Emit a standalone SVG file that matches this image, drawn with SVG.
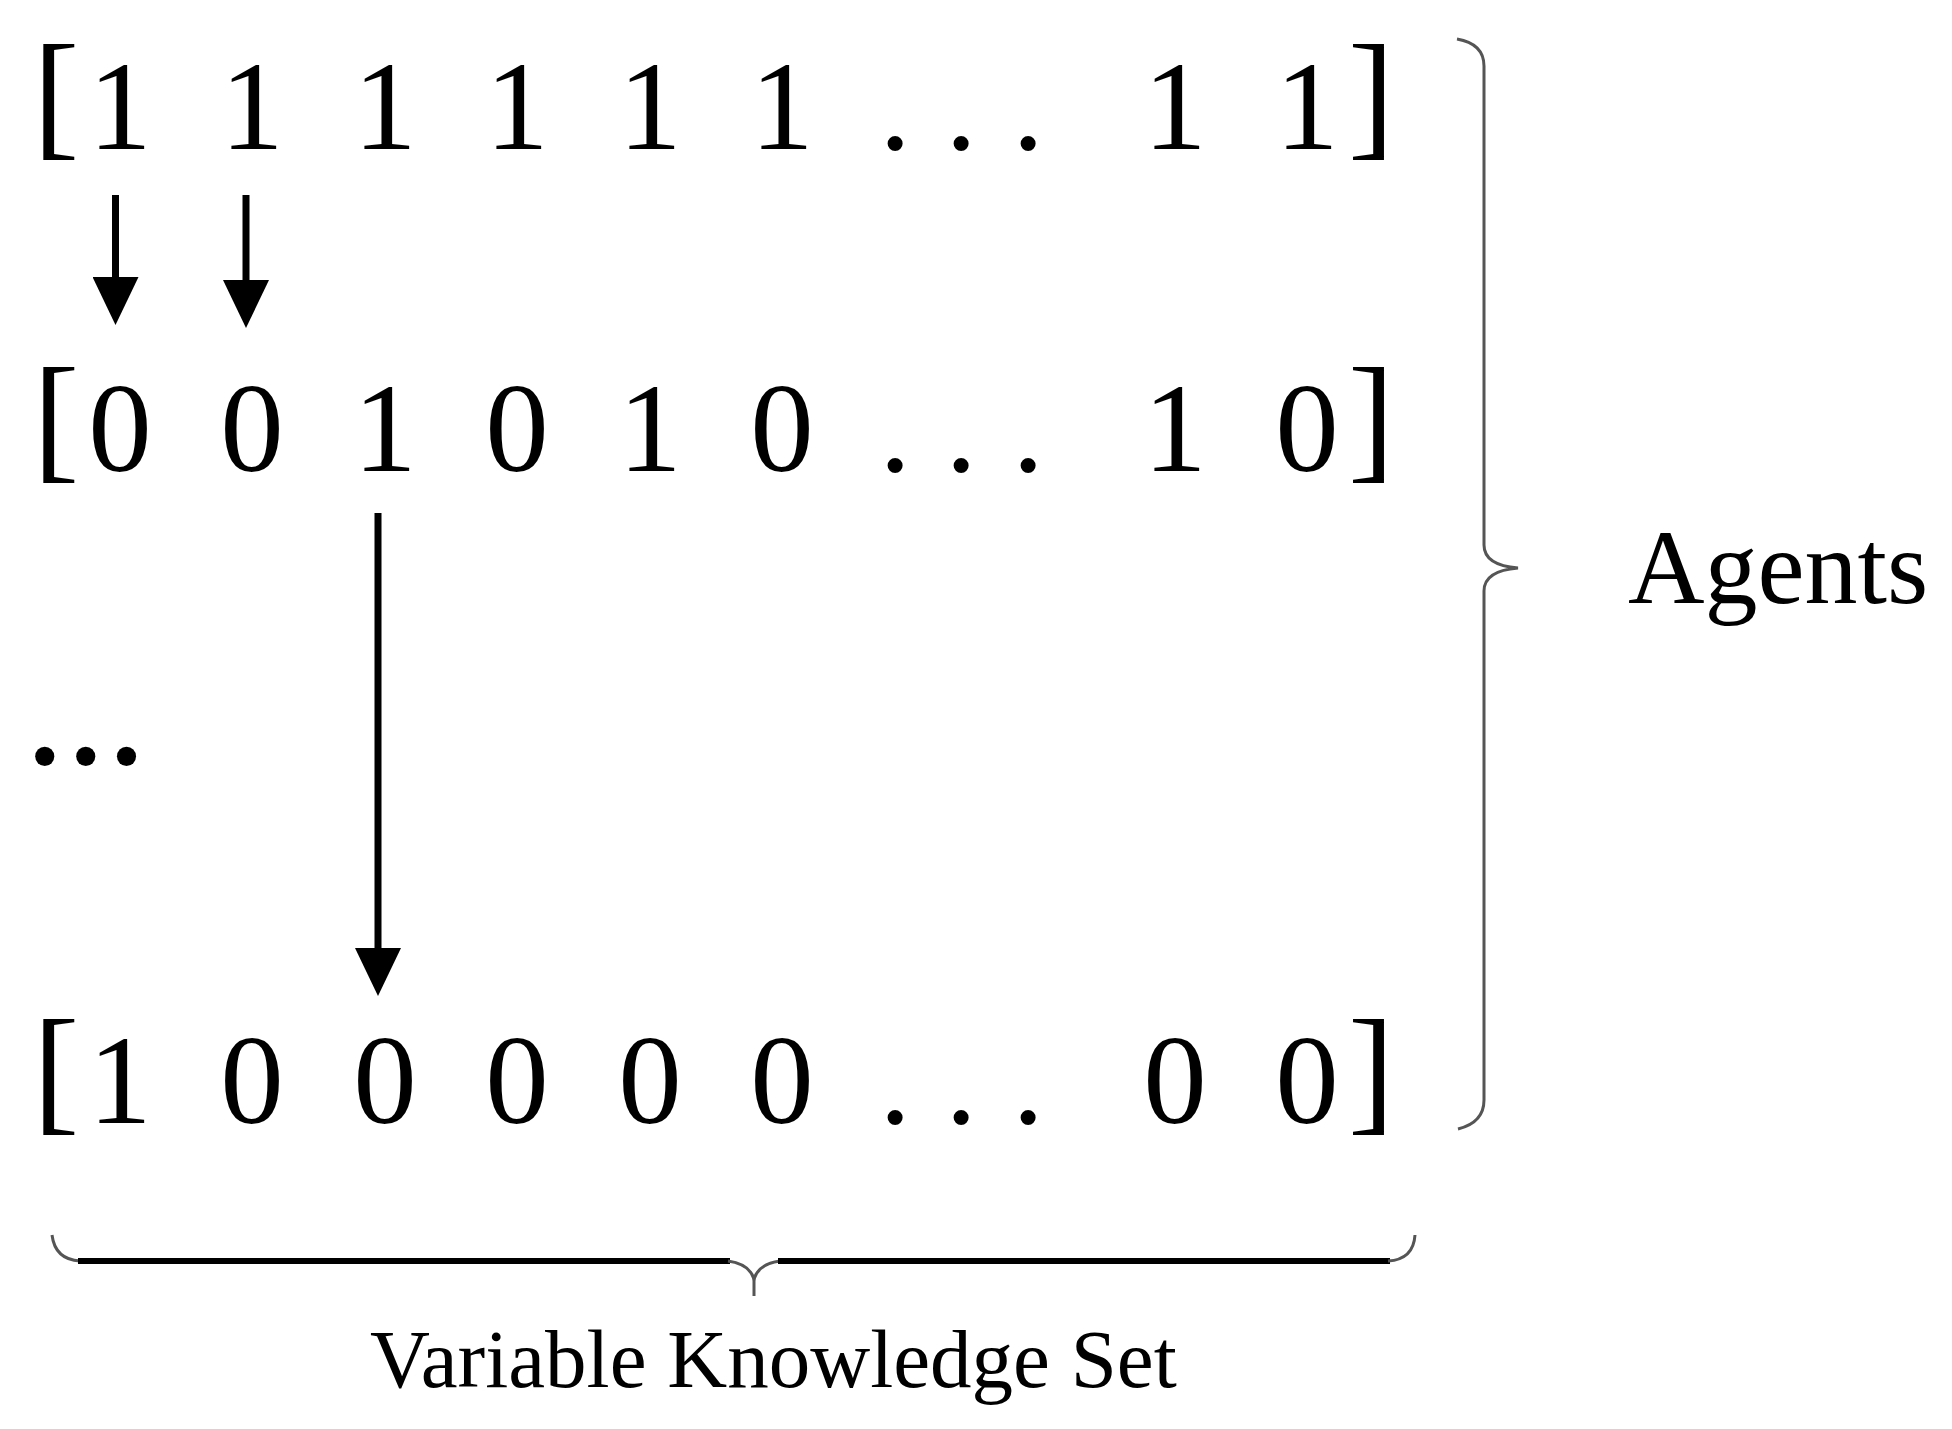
<svg xmlns="http://www.w3.org/2000/svg" width="1952" height="1429" viewBox="0 0 1952 1429">
<style>
.d{font-family:"Liberation Serif","Times New Roman",serif;font-size:127px;fill:#000;text-anchor:middle}
.b{font-family:"Liberation Serif","Times New Roman",serif;font-size:139px;fill:#000}
.lbl{font-family:"Liberation Serif","Times New Roman",serif;fill:#000}
.shaft{stroke:#000;stroke-width:7;fill:none}
.curve{stroke:#555;stroke-width:3;fill:none}
.thick{stroke:#000;stroke-width:6;fill:none}
</style>
<defs>
<marker id="ah" markerUnits="userSpaceOnUse" viewBox="0 0 48 46" markerWidth="48" markerHeight="46" refX="2" refY="23" orient="auto">
<path d="M0,0 L48,23 L0,46 Z" fill="#000"/>
</marker>
</defs>
<rect width="1952" height="1429" fill="#fff"/>
<g id="row1">
<text class="b" x="33" y="141">[</text>
<text class="d" x="120 252 385 517 650 782 895 961 1028 1175 1307" y="149">111111...11</text>
<text class="b" x="1348" y="141">]</text>
</g>
<g id="row2">
<text class="b" x="33" y="464">[</text>
<text class="d" x="120 252 385 517 650 782 895 961 1028 1175 1307" y="471">001010...10</text>
<text class="b" x="1348" y="464">]</text>
</g>
<g id="vdots">
<text class="lbl" x="30" y="764" font-size="118" font-weight="bold" letter-spacing="11.4">...</text>
</g>
<g id="row3">
<text class="b" x="33" y="1116">[</text>
<text class="d" x="120 252 385 517 650 782 895 961 1028 1175 1307" y="1123">100000...00</text>
<text class="b" x="1348" y="1116">]</text>
</g>
<g id="connectors">
<line class="shaft" x1="115.5" y1="195" x2="115.5" y2="279" marker-end="url(#ah)"/>
<line class="shaft" x1="246" y1="195" x2="246" y2="282" marker-end="url(#ah)"/>
<line class="shaft" x1="378" y1="513" x2="378" y2="950" marker-end="url(#ah)"/>
</g>
<g id="agents-brace">
<path class="curve" d="M1457,39 C1474,42 1484,50 1484,66 L1484,545 C1484,558 1494,566 1518,568 C1494,570 1484,578 1484,591 L1484,1100 C1484,1116 1474,1125 1458,1129"/>
</g>
<g id="agents-label">
<text class="lbl" x="1628" y="603" font-size="106">Agents</text>
</g>
<g id="knowledge-brace">
<path class="curve" d="M52,1235 C54,1251 63,1260 80,1261"/>
<line class="thick" x1="78" y1="1261" x2="730" y2="1261"/>
<path class="curve" d="M728,1261 C742,1263 751,1269 754,1279 C757,1269 766,1263 780,1261"/>
<line class="curve" x1="754" y1="1278" x2="754" y2="1296"/>
<line class="thick" x1="778" y1="1261" x2="1390" y2="1261"/>
<path class="curve" d="M1388,1261 C1405,1260 1414,1251 1415,1235"/>
</g>
<g id="knowledge-label">
<text class="lbl" x="370" y="1387" font-size="83">Variable Knowledge Set</text>
</g>
</svg>
